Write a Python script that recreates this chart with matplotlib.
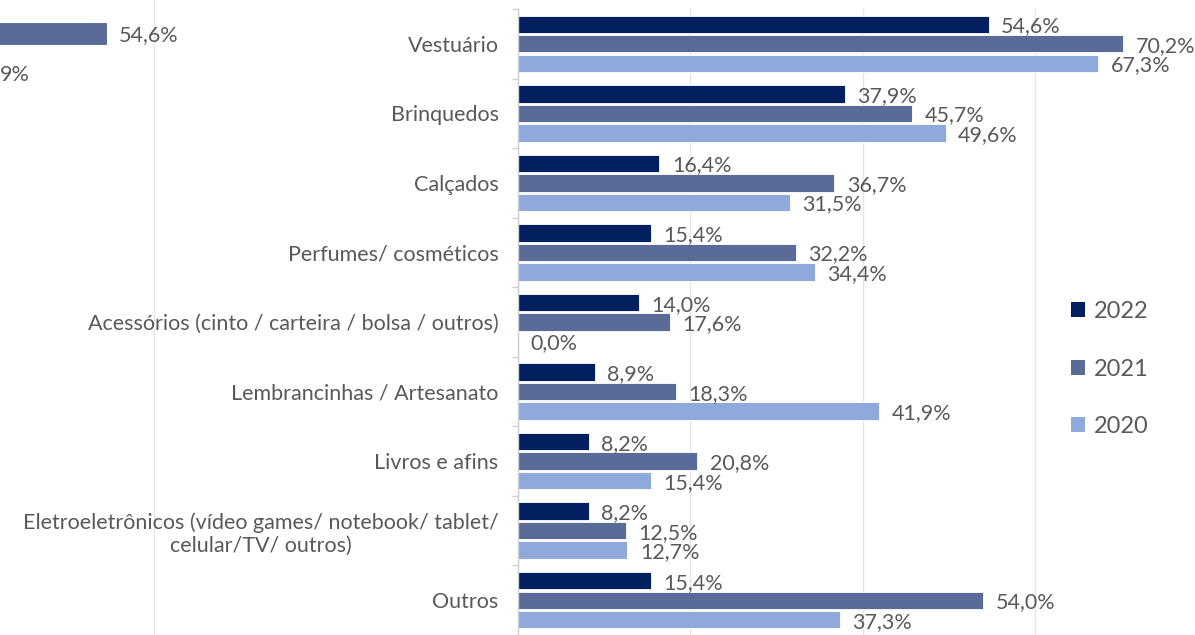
import matplotlib
matplotlib.use("Agg")
import matplotlib.pyplot as plt
from matplotlib.patches import Patch

plt.rcParams['font.family'] = ['Lato', 'DejaVu Sans']

categories = [
    "Vestuário",
    "Brinquedos",
    "Calçados",
    "Perfumes/ cosméticos",
    "Acessórios (cinto / carteira / bolsa / outros)",
    "Lembrancinhas / Artesanato",
    "Livros e afins",
    "Eletroeletrônicos (vídeo games/ notebook/ tablet/\ncelular/TV/ outros)",
    "Outros",
]
series_names = ["2022", "2021", "2020"]
v2022 = [54.6, 37.9, 16.4, 15.4, 14.0, 8.9, 8.2, 8.2, 15.4]
v2021 = [70.2, 45.7, 36.7, 32.2, 17.6, 18.3, 20.8, 12.5, 54.0]
v2020 = [67.3, 49.6, 31.5, 34.4, 0.0, 41.9, 15.4, 12.7, 37.3]
colors = ["#002060", "#596b96", "#8eaadb"]
xticks = [0, 20, 40, 60]

# fragment of an adjacent chart visible at the top-left edge
frag_values = [54.6]
frag_partial_label = "9%"

W, H = 1195, 635
fig = plt.figure(figsize=(W / 100, H / 100), dpi=100)
fig.patch.set_facecolor("white")

text_color = "#595959"
grid_color = "#e6e6e6"
fs = 15.5

# ---- fragment axes ----
fax = fig.add_axes([0, 0, 500 / W, 1])
fax.set_xlim(42.16, 42.16 + 500 / 8.62)
fax.set_ylim(14.49, -0.807)
fax.axvline(60, color=grid_color, lw=1, zorder=0)
fax.barh([0], frag_values, height=0.55, color=colors[1], edgecolor="white", lw=0.8, zorder=2)
for v in frag_values:
    fax.annotate(f"{v:.1f}%".replace(".", ","), (v, 0), xytext=(8, -1), textcoords="offset points",
                 va="center", ha="left", fontsize=fs, color=text_color)
fax.text(42.16, 1, frag_partial_label, ha="left", va="center", fontsize=fs,
         color=text_color)
fax.axis("off")

# ---- main axes ----
x0 = 518
ax = fig.add_axes([x0 / W, 0, 1 - x0 / W, 626 / H])
ax.set_xlim(0, (W - x0) / 8.62)
ax.set_ylim(8.5, -0.5)

pos = list(range(len(categories)))
off = 0.28
bh = 0.25
for vals, c, d in zip([v2022, v2021, v2020], colors, [-off, 0, off]):
    ys = [p + d for p in pos]
    ax.barh(ys, vals, height=bh, color=c, edgecolor="white", lw=0.6, zorder=2)
    for y, v in zip(ys, vals):
        ax.annotate(f"{v:.1f}%".replace(".", ","), (v, y), xytext=(9, -1.5), textcoords="offset points",
                    va="center", ha="left", fontsize=fs, color=text_color)

ax.set_xticks(xticks)
ax.xaxis.grid(True, color=grid_color, lw=1, zorder=0)
ax.set_axisbelow(True)
ax.tick_params(axis="x", length=0, labelbottom=False)

ax.set_yticks(pos)
ax.set_yticklabels(categories, fontsize=fs, color=text_color, multialignment="center")
ax.tick_params(axis="y", which="major", length=0, pad=14)
ax.set_yticks([p - 0.5 for p in pos] + [8.5], minor=True)
ax.tick_params(axis="y", which="minor", length=4, width=1, color="#d0d0d0")

for s in ["top", "right", "bottom"]:
    ax.spines[s].set_visible(False)
ax.spines["left"].set_color("#d0d0d0")
ax.spines["left"].set_linewidth(1)

handles = [Patch(facecolor=c, edgecolor="none") for c in colors]
leg = fig.legend(handles, series_names, loc="center left",
                 bbox_to_anchor=(1050 / W, 1 - 369 / H), frameon=False,
                 fontsize=17, handlelength=0.6, handleheight=0.6,
                 handletextpad=0.35, labelspacing=1.55)
for t in leg.get_texts():
    t.set_color(text_color)

fig.savefig("out.png", dpi=100, facecolor="white")
